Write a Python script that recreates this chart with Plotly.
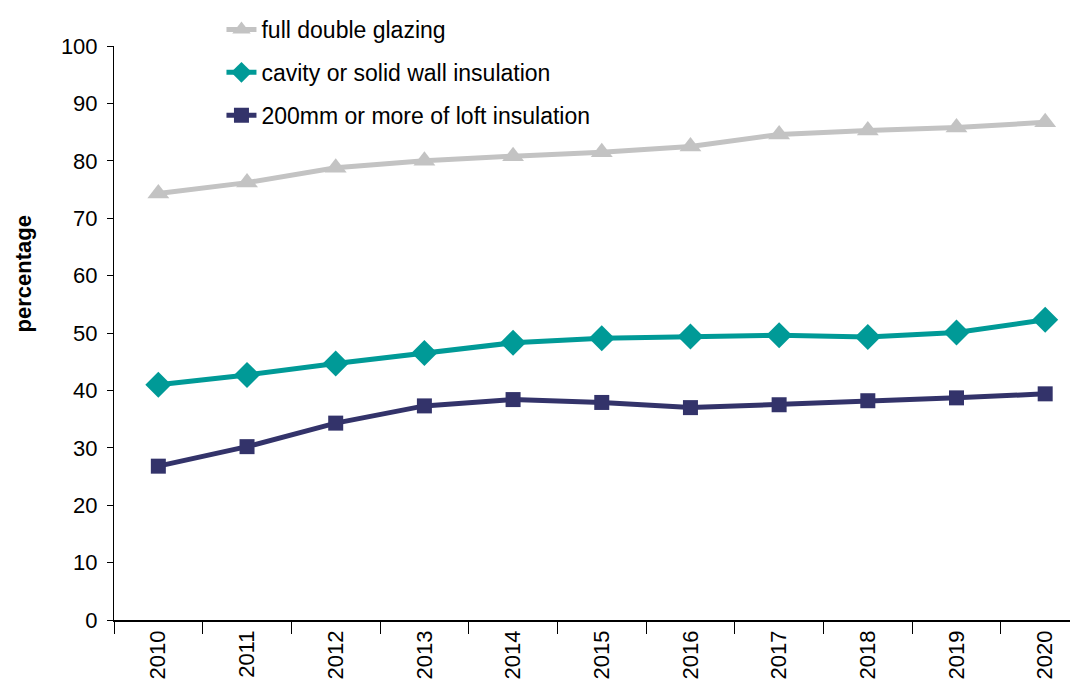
"""Insulation and glazing measures, 2010-2020."""

import plotly.graph_objects as go

years = ["2010", "2011", "2012", "2013", "2014", "2015",
         "2016", "2017", "2018", "2019", "2020"]

glazing = [74.3, 76.2, 78.8, 80.0, 80.8, 81.5, 82.5, 84.6, 85.3, 85.8, 86.7]
wall = [41.0, 42.7, 44.7, 46.5, 48.3, 49.1, 49.4, 49.6, 49.3, 50.1, 52.3]
loft = [26.8, 30.2, 34.3, 37.3, 38.4, 37.9, 37.0, 37.5, 38.2, 38.7, 39.4]

SERIES = [
    ("full double glazing", glazing, "#C3C3C3", "triangle-up", 19),
    ("cavity or solid wall insulation", wall, "#009A97", "diamond", 20),
    ("200mm or more of loft insulation", loft, "#33336A", "square", 15),
]

fig = go.Figure()

for name, values, color, symbol, size in SERIES:
    fig.add_trace(go.Scatter(
        x=years,
        y=values,
        mode="lines+markers",
        name=name,
        legendgroup=name,
        line=dict(color=color, width=5),
        marker=dict(color=color, symbol=symbol, size=size),
    ))

# the page body adds an 8px offset, so the figure is 8px smaller each way
fig.update_layout(
    width=1070,
    height=676,
    template="plotly_white",
    plot_bgcolor="white",
    paper_bgcolor="white",
    font=dict(family="Arial, Liberation Sans, sans-serif", size=22, color="black"),
    margin=dict(l=106, r=0, t=38, b=64, autoexpand=False),
    showlegend=True,
    legend=dict(
        xref="container", yref="container",
        x=0.1995, y=1.01, xanchor="left", yanchor="top",
        font=dict(size=23),
        bgcolor="rgba(0,0,0,0)",
        tracegroupgap=10,
        traceorder="grouped",
    ),
)

fig.add_annotation(
    text="<b>percentage</b>",
    xref="paper", yref="paper",
    x=-0.0944, y=0.6037,
    xanchor="center", yanchor="middle",
    textangle=-90,
    showarrow=False,
    font=dict(size=22),
)

fig.update_xaxes(
    type="category",
    range=[-0.5, 10.37],
    automargin=False,
    showgrid=False,
    showline=True,
    linecolor="black",
    linewidth=1.5,
    ticks="outside",
    tickson="boundaries",
    ticklen=12,
    tickcolor="black",
    tickangle=-90,
    tickfont=dict(size=22),
)

fig.update_yaxes(
    range=[0, 100],
    dtick=10,
    automargin=False,
    showgrid=False,
    zeroline=False,
    showline=True,
    linecolor="black",
    linewidth=1,
    ticks="outside",
    ticklen=6,
    tickcolor="black",
    ticklabelstandoff=5,
    tickfont=dict(size=22),
)

fig.write_html("out.html")
